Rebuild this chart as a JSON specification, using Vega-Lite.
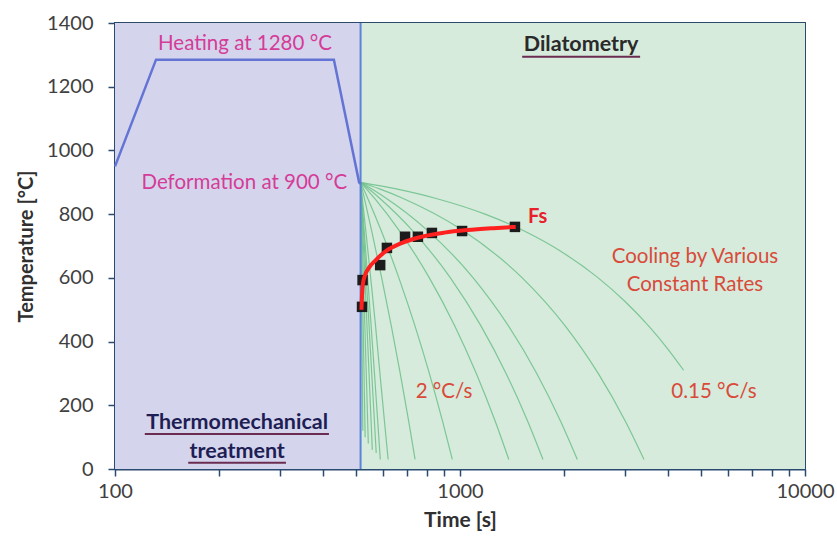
{
  "$schema": "https://vega.github.io/schema/vega-lite/v6.json",
  "width": 690,
  "height": 446,
  "autosize": {"type": "none"},
  "padding": {"left": 115, "top": 23, "right": 32, "bottom": 77},
  "background": "white",
  "config": {
    "font": "Lato",
    "view": {"stroke": "#2e4a6a", "strokeWidth": 2},
    "axis": {"grid": false, "labelFont": "Lato", "titleFont": "Lato", "labelColor": "#404040", "titleColor": "#303030", "domainColor": "#2b4a72", "domainWidth": 2, "tickColor": "#2b4a72", "tickWidth": 1.5, "labelFlush": false}
  },
  "datasets": {
    "regions": [
      {"zone": "Thermomechanical", "t": 100, "t2": 515, "T": 0, "T2": 1400},
      {"zone": "Dilatometry", "t": 515, "t2": 10000, "T": 0, "T2": 1400}
    ],
    "heating": [
      {"t": 100, "T": 950},
      {"t": 131.5, "T": 1285},
      {"t": 431, "T": 1285},
      {"t": 510, "T": 900},
      {"t": 515, "T": 895}
    ],
    "cooling": [
      {"rate": 100, "t": 515, "T": 900}, {"rate": 100, "t": 519, "T": 500}, {"rate": 100, "t": 522.8, "T": 120},
      {"rate": 50, "t": 515, "T": 900}, {"rate": 50, "t": 523, "T": 500}, {"rate": 50, "t": 531, "T": 100},
      {"rate": 30, "t": 515, "T": 900}, {"rate": 30, "t": 528.3, "T": 500}, {"rate": 30, "t": 542.3, "T": 80},
      {"rate": 20, "t": 515, "T": 900}, {"rate": 20, "t": 535, "T": 500}, {"rate": 20, "t": 557, "T": 60},
      {"rate": 15, "t": 515, "T": 900}, {"rate": 15, "t": 541.7, "T": 500}, {"rate": 15, "t": 571.7, "T": 50},
      {"rate": 12, "t": 515, "T": 900}, {"rate": 12, "t": 527.5, "T": 750}, {"rate": 12, "t": 540, "T": 600}, {"rate": 12, "t": 552.5, "T": 450}, {"rate": 12, "t": 565, "T": 300}, {"rate": 12, "t": 577.5, "T": 150}, {"rate": 12, "t": 587.5, "T": 30},
      {"rate": 8.4, "t": 515, "T": 900}, {"rate": 8.4, "t": 533, "T": 750}, {"rate": 8.4, "t": 551, "T": 600}, {"rate": 8.4, "t": 569, "T": 450}, {"rate": 8.4, "t": 586, "T": 300}, {"rate": 8.4, "t": 604, "T": 150}, {"rate": 8.4, "t": 619, "T": 30},
      {"rate": 3.85, "t": 515, "T": 900}, {"rate": 3.85, "t": 528, "T": 850}, {"rate": 3.85, "t": 554, "T": 750}, {"rate": 3.85, "t": 593, "T": 600}, {"rate": 3.85, "t": 632, "T": 450}, {"rate": 3.85, "t": 671, "T": 300}, {"rate": 3.85, "t": 710, "T": 150}, {"rate": 3.85, "t": 741, "T": 30},
      {"rate": 2, "t": 515, "T": 900}, {"rate": 2, "t": 540, "T": 850}, {"rate": 2, "t": 590, "T": 750}, {"rate": 2, "t": 665, "T": 600}, {"rate": 2, "t": 740, "T": 450}, {"rate": 2, "t": 815, "T": 300}, {"rate": 2, "t": 890, "T": 150}, {"rate": 2, "t": 950, "T": 30},
      {"rate": 1, "t": 515, "T": 900}, {"rate": 1, "t": 565, "T": 850}, {"rate": 1, "t": 665, "T": 750}, {"rate": 1, "t": 815, "T": 600}, {"rate": 1, "t": 965, "T": 450}, {"rate": 1, "t": 1115, "T": 300}, {"rate": 1, "t": 1265, "T": 150}, {"rate": 1, "t": 1385, "T": 30},
      {"rate": 0.71, "t": 515, "T": 900}, {"rate": 0.71, "t": 585, "T": 850}, {"rate": 0.71, "t": 726, "T": 750}, {"rate": 0.71, "t": 938, "T": 600}, {"rate": 0.71, "t": 1149, "T": 450}, {"rate": 0.71, "t": 1360, "T": 300}, {"rate": 0.71, "t": 1571, "T": 150}, {"rate": 0.71, "t": 1740, "T": 30},
      {"rate": 0.52, "t": 515, "T": 900}, {"rate": 0.52, "t": 563, "T": 875}, {"rate": 0.52, "t": 611, "T": 850}, {"rate": 0.52, "t": 803, "T": 750}, {"rate": 0.52, "t": 1092, "T": 600}, {"rate": 0.52, "t": 1380, "T": 450}, {"rate": 0.52, "t": 1669, "T": 300}, {"rate": 0.52, "t": 1957, "T": 150}, {"rate": 0.52, "t": 2188, "T": 30},
      {"rate": 0.3, "t": 515, "T": 900}, {"rate": 0.3, "t": 582, "T": 880}, {"rate": 0.3, "t": 682, "T": 850}, {"rate": 0.3, "t": 1015, "T": 750}, {"rate": 0.3, "t": 1515, "T": 600}, {"rate": 0.3, "t": 2015, "T": 450}, {"rate": 0.3, "t": 2515, "T": 300}, {"rate": 0.3, "t": 3015, "T": 150}, {"rate": 0.3, "t": 3415, "T": 30},
      {"rate": 0.15, "t": 515, "T": 900}, {"rate": 0.15, "t": 648, "T": 880}, {"rate": 0.15, "t": 848, "T": 850}, {"rate": 0.15, "t": 1182, "T": 800}, {"rate": 0.15, "t": 1515, "T": 750}, {"rate": 0.15, "t": 2015, "T": 675}, {"rate": 0.15, "t": 2515, "T": 600}, {"rate": 0.15, "t": 3015, "T": 525}, {"rate": 0.15, "t": 3515, "T": 450}, {"rate": 0.15, "t": 4015, "T": 375}, {"rate": 0.15, "t": 4448, "T": 310}
    ],
    "fit": [
      {"t": 518, "T": 500}, {"t": 520, "T": 545}, {"t": 523, "T": 580}, {"t": 530, "T": 607}, {"t": 545, "T": 632}, {"t": 570, "T": 656}, {"t": 610, "T": 684}, {"t": 680, "T": 710}, {"t": 780, "T": 730}, {"t": 900, "T": 742}, {"t": 1050, "T": 750}, {"t": 1250, "T": 756}, {"t": 1450, "T": 760}
    ],
    "fs": [
      {"t": 520, "T": 509}, {"t": 522, "T": 593}, {"t": 587, "T": 640}, {"t": 614, "T": 694}, {"t": 693, "T": 729}, {"t": 755, "T": 729}, {"t": 829, "T": 741}, {"t": 1014, "T": 747}, {"t": 1443, "T": 760}
    ],
    "labels": [
      {"text": "Heating at 1280 °C", "t": 238, "T": 1334, "group": "process"},
      {"text": "Deformation at 900 °C", "t": 237, "T": 898, "group": "process"},
      {"text": "Cooling by Various", "t": 4797, "T": 666, "group": "cooling"},
      {"text": "Constant Rates", "t": 4797, "T": 578, "group": "cooling"},
      {"text": "2 °C/s", "t": 899, "T": 242, "group": "cooling"},
      {"text": "0.15 °C/s", "t": 5446, "T": 242, "group": "cooling"}
    ],
    "headers": [
      {"text": "Dilatometry", "t": 2244, "T": 1331, "group": "dil"},
      {"text": "Thermomechanical", "t": 226, "T": 144, "group": "thermo"},
      {"text": "treatment", "t": 226, "T": 53, "group": "thermo"}
    ],
    "underlines": [
      {"label": "Dilatometry", "t": 1514, "t2": 3327, "T": 1294},
      {"label": "Thermomechanical", "t": 122, "t2": 417, "T": 110},
      {"label": "treatment", "t": 163, "t2": 313, "T": 20}
    ]
  },
  "encoding": {
    "x": {"field": "t", "type": "quantitative", "scale": {"type": "log", "domain": [100, 10000], "nice": false},
      "axis": {"title": "Time [s]", "titleFontSize": 21, "titleFontWeight": "bold", "titlePadding": 8, "labelFontSize": 20, "labelPadding": 5, "tickSize": 7, "format": "d", "labelOverlap": false,
        "values": [100, 200, 300, 400, 500, 600, 700, 800, 900, 1000, 2000, 3000, 4000, 5000, 6000, 7000, 8000, 9000, 10000],
        "labelExpr": "datum.value == 100 || datum.value == 1000 || datum.value == 10000 ? datum.label : ''"}},
    "y": {"field": "T", "type": "quantitative", "scale": {"domain": [0, 1400], "nice": false},
      "axis": {"title": "Temperature [°C]", "titleFontSize": 20, "titleFontWeight": "bold", "titlePadding": 10, "labelFontSize": 20, "labelPadding": 15, "tickSize": 7, "format": "d", "values": [0, 200, 400, 600, 800, 1000, 1200, 1400]}}
  },
  "layer": [
    {
      "data": {"name": "regions"},
      "mark": {"type": "rect"},
      "encoding": {
        "x2": {"field": "t2"},
        "y2": {"field": "T2"},
        "color": {"field": "zone", "type": "nominal", "legend": null, "scale": {"domain": ["Thermomechanical", "Dilatometry"], "range": ["#d4d5ec", "#d6ebdc"]}}
      }
    },
    {
      "data": {"name": "cooling"},
      "mark": {"type": "line", "interpolate": "monotone", "strokeWidth": 1.2, "color": "#6cc08a", "opacity": 0.85},
      "encoding": {
        "detail": {"field": "rate", "type": "nominal"}
      }
    },
    {
      "data": {"name": "regions"},
      "transform": [{"filter": "datum.zone == 'Dilatometry'"}],
      "mark": {"type": "rule", "color": "#5b84d8", "strokeWidth": 2},
      "encoding": {"y2": {"field": "T2"}}
    },
    {
      "data": {"name": "heating"},
      "mark": {"type": "line", "color": "#6474d4", "strokeWidth": 2.5},
      "encoding": {}
    },
    {
      "data": {"name": "fs"},
      "mark": {"type": "square", "size": 110, "color": "#1c1c1c", "opacity": 1},
      "encoding": {}
    },
    {
      "data": {"name": "fit"},
      "mark": {"type": "line", "interpolate": "monotone", "color": "#ff2020", "strokeWidth": 4},
      "encoding": {}
    },
    {
      "data": {"name": "underlines"},
      "mark": {"type": "rule", "color": "#6a2c50", "strokeWidth": 2},
      "encoding": {"x2": {"field": "t2"}}
    },
    {
      "data": {"name": "labels"},
      "mark": {"type": "text", "fontSize": 20.5, "align": "center", "baseline": "middle"},
      "encoding": {
        "text": {"field": "text"},
        "color": {"field": "group", "type": "nominal", "legend": null, "scale": {"domain": ["process", "cooling"], "range": ["#d43c98", "#d94a3a"]}}
      }
    },
    {
      "data": {"name": "headers"},
      "mark": {"type": "text", "fontSize": 21.5, "fontWeight": "bold", "align": "center", "baseline": "middle"},
      "encoding": {
        "text": {"field": "text"},
        "color": {"field": "group", "type": "nominal", "legend": null, "scale": {"domain": ["dil", "thermo"], "range": ["#2a2a2a", "#1e1e55"]}}
      }
    },
    {
      "data": {"values": [{"text": "Fs", "t": 1575, "T": 791}]},
      "mark": {"type": "text", "fontSize": 20, "fontWeight": "bold", "align": "left", "baseline": "middle", "color": "#e8202a"},
      "encoding": {
        "text": {"field": "text"}
      }
    }
  ],
  "resolve": {"scale": {"color": "independent"}}
}
